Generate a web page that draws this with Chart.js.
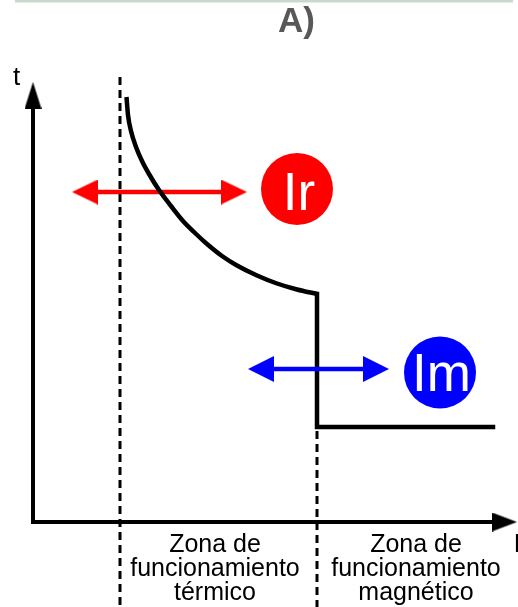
<!DOCTYPE html>
<html>
<head>
<meta charset="utf-8">
<script src="https://cdn.jsdelivr.net/npm/chart.js@4.4.1/dist/chart.umd.min.js"></script>
<style>
html,body{margin:0;padding:0;background:#fff;}
#wrap{position:relative;width:518px;height:607px;}
</style>
</head>
<body>
<div id="wrap"><canvas id="c"></canvas></div>
<script>
// ---- Data (diagram units: I = current, t = time) ----
const curveI = [9.35, 9.5, 9.8, 10.3, 10.9, 11.6, 12.6, 13.8, 15.0, 16.2, 17.4, 18.9, 20.4, 22.4, 24.4, 26.4, 28.4];
const curveT = [42.5, 40.7, 39.1, 37.5, 36.1, 34.8, 33.2, 31.6, 30.1, 28.9, 27.8, 26.6, 25.65, 24.65, 23.85, 23.25, 22.8];
const stepI = [28.4, 28.4, 46.0];
const stepT = [22.8, 9.5, 9.5];
const thermalLimitI = 8.7;
const magneticLimitI = 28.4;
const irArrowI = [3.9, 21.4];
const irArrowT = 33.0;
const imArrowI = [21.5, 35.6];
const imArrowT = 15.3;
const settingI = [26.4, 40.7];
const settingT = [33.3, 14.95];
const settingLabels = ['Ir', 'Im'];
const axisLabels = ['t', 'I'];
const titleLabel = 'A)';
const zoneThermal = ['Zona de', 'funcionamiento', 'térmico'];
const zoneMagnetic = ['Zona de', 'funcionamiento', 'magnético'];

// ---- helpers ----
function arrowHead(len, half, color) {
  const c = document.createElement('canvas');
  c.width = 2 * len; c.height = Math.round(2 * half);
  const g = c.getContext('2d');
  g.fillStyle = color;
  g.beginPath();
  g.moveTo(0, 0); g.lineTo(len, c.height / 2); g.lineTo(0, c.height);
  g.closePath(); g.fill();
  return c;
}
const redHead = arrowHead(26, 12.5, '#ff0000');
const blueHead = arrowHead(26, 13, '#0000ff');
const yHead = arrowHead(27, 8.5, '#000000');
const xHead = arrowHead(25, 9.5, '#000000');

const pts = (xs, ys) => xs.map((x, i) => ({x, y: Array.isArray(ys) ? ys[i] : ys}));
const SANS = "'Liberation Sans', Arial, sans-serif";

const textPlugin = {
  id: 'diagramText',
  afterDatasetsDraw(chart) {
    const {ctx, scales: {x, y}} = chart;
    const put = (txt, dx, dy, font, color, align) => {
      ctx.save();
      ctx.font = font; ctx.fillStyle = color;
      ctx.textAlign = align; ctx.textBaseline = 'alphabetic';
      ctx.fillText(txt, x.getPixelForValue(dx), y.getPixelForValue(dy));
      ctx.restore();
    };
    put(titleLabel, 26.35, 49.0, "bold 35px " + SANS, '#585858', 'center');
    put(axisLabels[0], -2.0, 43.7, "26px " + SANS, '#000', 'left');
    put(axisLabels[1], 48.06, -3.0, "26px " + SANS, '#000', 'left');
    put(settingLabels[0], 26.6, 31.2, "53px " + SANS, '#fff', 'center');
    put(settingLabels[1], 40.85, 13.1, "53px " + SANS, '#fff', 'center');
    const rows = [-3.0, -5.4, -7.8];
    zoneThermal.forEach((s, i) => put(s, 18.2, rows[i], "25px " + SANS, '#000', 'center'));
    zoneMagnetic.forEach((s, i) => put(s, 38.3, rows[i], "25px " + SANS, '#000', 'center'));
  }
};

const line = (data, color, width, order, extra) => Object.assign({
  type: 'scatter', data, showLine: true, borderColor: color, backgroundColor: color,
  borderWidth: width, pointRadius: 0, fill: false, order
}, extra || {});

new Chart(document.getElementById('c'), {
  type: 'scatter',
  data: {
    datasets: [
      // setting circles
      {data: pts(settingI, settingT), pointRadius: 36, pointStyle: 'circle',
       backgroundColor: ['#ff0000', '#0000ff'], borderColor: ['#ff0000', '#0000ff'], borderWidth: 0, order: 0},
      // Im arrow
      line(pts([24.1, 33.1], imArrowT), '#0000ff', 4.5, 1),
      {data: pts(imArrowI, imArrowT), pointStyle: blueHead, pointRotation: [180, 0], pointRadius: 10, order: 1},
      // tripping curve
      line(pts(curveI, curveT), '#000', 4.5, 2, {cubicInterpolationMode: 'monotone'}),
      line(pts(stepI, stepT), '#000', 4.5, 2, {borderCapStyle: 'square', borderJoinStyle: 'miter'}),
      // Ir arrow
      line(pts([6.5, 18.9], irArrowT), '#ff0000', 4.5, 3),
      {data: pts(irArrowI, irArrowT), pointStyle: redHead, pointRotation: [180, 0], pointRadius: 10, order: 3},
      // zone limits
      line(pts([thermalLimitI, thermalLimitI], [44.5, -8.5]), '#000', 3, 4, {borderDash: [8, 5]}),
      line(pts([magneticLimitI, magneticLimitI], [9.1, -8.5]), '#000', 3, 4, {borderDash: [8, 5]}),
      // axes
      line(pts([0, 0, 45.9], [41.3, 0, 0]), '#000', 4, 5, {borderJoinStyle: 'miter'}),
      {data: pts([0, 48.4], [44.0, 0]), pointStyle: [yHead, xHead], pointRotation: [-90, 0], pointRadius: 10, order: 5},
      // top rule
      line(pts([-1.8, 48.0], 52.1), '#c9d9cd', 3, 6)
    ]
  },
  options: {
    responsive: true,
    maintainAspectRatio: false,
    animation: false,
    events: [],
    layout: {padding: 0, autoPadding: false},
    plugins: {legend: {display: false}, tooltip: {enabled: false}, title: {display: false}},
    scales: {
      x: {type: 'linear', min: -3.3, max: 48.5, display: false},
      y: {type: 'linear', min: -8.5, max: 52.2, display: false}
    }
  },
  plugins: [textPlugin]
});
</script>
</body>
</html>
